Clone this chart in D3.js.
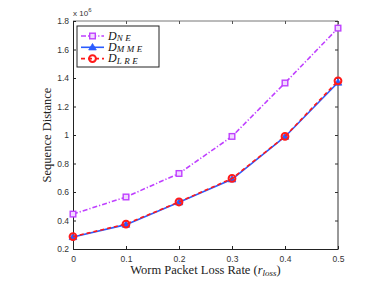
<!DOCTYPE html>
<html>
<head>
<meta charset="utf-8">
<script src="https://cdn.jsdelivr.net/npm/d3@7"></script>
<style>
  body { margin: 0; background: #fff; }
  svg { display: block; }
  .tick text { font-family: "Liberation Sans", Arial, sans-serif; font-size: 8.5px; fill: #333; }
</style>
</head>
<body>
<script>
// data (values in units of 1e6)
var lossRates = [0, 0.1, 0.2, 0.3, 0.4, 0.5];
var dNE  = [0.445, 0.565, 0.73, 0.99, 1.365, 1.75];
var dMME = [0.284, 0.371, 0.528, 0.689, 0.988, 1.368];
var dLRE = [0.287, 0.375, 0.53, 0.695, 0.99, 1.38];
var xTicks = [0, 0.1, 0.2, 0.3, 0.4, 0.5];
var yTicks = [0.2, 0.4, 0.6, 0.8, 1, 1.2, 1.4, 1.6, 1.8];

var width = 374, height = 281;
var plotL = 73, plotR = 338, plotT = 21, plotB = 249;

var svg = d3.select("body").append("svg")
    .attr("width", width)
    .attr("height", height);

var x = d3.scaleLinear().domain([0, 0.5]).range([plotL, plotR]);
var y = d3.scaleLinear().domain([0.2, 1.8]).range([plotB, plotT]);

// box (top/right lighter like matlab)
svg.append("line").attr("x1", plotL).attr("x2", plotR).attr("y1", plotT).attr("y2", plotT)
    .attr("stroke", "#777").attr("stroke-width", 1);
svg.append("line").attr("x1", plotR).attr("x2", plotR).attr("y1", plotT).attr("y2", plotB)
    .attr("stroke", "#333").attr("stroke-width", 1);

// inward ticks on top/right
svg.append("g").attr("transform", "translate(0," + plotT + ")")
    .call(d3.axisBottom(x).tickValues(xTicks).tickSize(3).tickFormat(""))
    .call(function (g) { g.select(".domain").remove(); g.selectAll("line").attr("stroke", "#555"); });
svg.append("g").attr("transform", "translate(" + plotR + ",0)")
    .call(d3.axisLeft(y).tickValues(yTicks).tickSize(3).tickFormat(""))
    .call(function (g) { g.select(".domain").remove(); g.selectAll("line").attr("stroke", "#333"); });

var xAxis = svg.append("g").attr("transform", "translate(0," + plotB + ")")
    .call(d3.axisTop(x).tickValues(xTicks).tickSize(3).tickSizeOuter(0).tickFormat(d3.format("")));
xAxis.selectAll(".tick text").attr("y", 7).attr("dy", "0.71em");
xAxis.select(".domain").attr("stroke", "#222");
xAxis.selectAll(".tick line").attr("stroke", "#222");

var yAxis = svg.append("g").attr("transform", "translate(" + plotL + ",0)")
    .call(d3.axisRight(y).tickValues(yTicks).tickSize(3).tickSizeOuter(0).tickFormat(d3.format("")));
yAxis.selectAll(".tick text").attr("x", -4).attr("text-anchor", "end");
yAxis.select(".domain").attr("stroke", "#222");
yAxis.selectAll(".tick line").attr("stroke", "#222");

// exponent label
var ex = svg.append("text").attr("x", plotL).attr("y", 16)
    .attr("font-family", "Liberation Sans, Arial, sans-serif").attr("font-size", 8).attr("fill", "#333");
ex.append("tspan").text("x 10");
ex.append("tspan").attr("dy", -4).attr("font-size", 6).text("6");

// axis labels
svg.append("text").attr("x", (plotL + plotR) / 2).attr("y", 274)
    .attr("text-anchor", "middle")
    .attr("font-family", "Liberation Serif, Times New Roman, serif").attr("font-size", 12.5).attr("fill", "#222")
    .html("Worm Packet Loss Rate (<tspan font-style='italic'>r</tspan><tspan font-style='italic' font-size='9' dy='2'>loss</tspan><tspan dy='-2'>)</tspan>");

svg.append("text")
    .attr("transform", "translate(51," + (plotT + plotB) / 2 + ") rotate(-90)")
    .attr("text-anchor", "middle")
    .attr("font-family", "Liberation Serif, Times New Roman, serif").attr("font-size", 12.5).attr("fill", "#222")
    .text("Sequence Distance");

var line = d3.line().x(function (d, i) { return x(lossRates[i]); }).y(function (d) { return y(d); });

var series = [
    { name: "NE", data: dNE, color: "#bf40ff", dash: "5,2,1.2,2", marker: "square" },
    { name: "MME", data: dMME, color: "#2a5cff", dash: null, marker: "triangle" },
    { name: "LRE", data: dLRE, color: "#ff1a1a", dash: "4,3", marker: "circle" }
];

function drawMarker(g, s, cx, cy) {
    if (s.marker === "square") {
        g.append("rect").attr("x", cx - 2.8).attr("y", cy - 2.8).attr("width", 5.6).attr("height", 5.6)
            .attr("fill", "#f0d8ff").attr("stroke", s.color).attr("stroke-width", 1.4);
    } else if (s.marker === "triangle") {
        g.append("path").attr("d", "M" + cx + "," + (cy - 3.8) + "L" + (cx + 3.8) + "," + (cy + 2.6) + "L" + (cx - 3.8) + "," + (cy + 2.6) + "Z")
            .attr("fill", s.color).attr("stroke", s.color).attr("stroke-width", 0.8);
    } else {
        g.append("circle").attr("cx", cx).attr("cy", cy).attr("r", 3.4)
            .attr("fill", "none").attr("stroke", s.color).attr("stroke-width", 2);
    }
}

series.forEach(function (s) {
    svg.append("path").datum(s.data)
        .attr("d", line)
        .attr("fill", "none")
        .attr("stroke", s.color)
        .attr("stroke-width", 1.6)
        .attr("stroke-dasharray", s.dash);
    var g = svg.append("g");
    s.data.forEach(function (v, i) { drawMarker(g, s, x(lossRates[i]), y(v)); });
});

// legend
var lg = svg.append("g");
lg.append("rect").attr("x", 77).attr("y", 26).attr("width", 82).attr("height", 41)
    .attr("fill", "#fff").attr("stroke", "#222").attr("stroke-width", 1);
series.forEach(function (s, i) {
    var ly = 36 + i * 11.3;
    lg.append("line").attr("x1", 81).attr("x2", 104).attr("y1", ly).attr("y2", ly)
        .attr("stroke", s.color).attr("stroke-width", 1.6).attr("stroke-dasharray", s.dash);
    drawMarker(lg, s, 92.5, ly);
    var t = lg.append("text").attr("x", 108).attr("y", ly + 3.5)
        .attr("font-family", "Liberation Serif, Times New Roman, serif").attr("font-style", "italic")
        .attr("font-size", 12).attr("fill", "#111");
    t.append("tspan").text("D");
    t.append("tspan").attr("dy", 1.5).attr("font-size", 9).attr("letter-spacing", 2.6).text(s.name);
});
</script>
</body>
</html>
